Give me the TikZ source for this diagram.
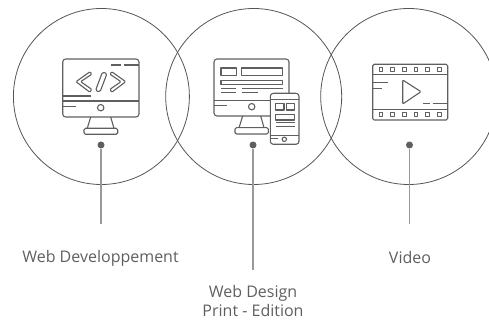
\documentclass[tikz,border=0pt]{standalone}
\usepackage{fontspec}
\setmainfont{Open Sans}
\usepackage{xcolor}
\definecolor{icongray}{HTML}{5F5F5F}
\definecolor{stemgray}{HTML}{999999}
\definecolor{ringgray}{HTML}{555555}
\tikzset{
    ring/.style={draw=ringgray,line width=0.8pt,shape=circle,minimum size=#1,inner sep=0pt},
    pin/.style={fill=icongray,shape=circle,minimum size=7pt,inner sep=0pt},
    stem/.style={draw=stemgray,line width=1.1pt},
    caption/.style={text=icongray,align=center,font=\fontsize{16}{19}\selectfont},
    icon/.style={draw=icongray,line width=1.1pt,line join=round}
}
\begin{document}
\begin{tikzpicture}[x=1pt,y=-1pt]
    \clip (0,0) rectangle (489,320);
    \node[ring=176pt] (devring) at (101.4,96.5) {};
    \node[ring=176pt] (designring) at (253.7,96.5) {};
    \node[ring=176pt] (videoring) at (408.7,96.5) {};
    \node[pin] (devpin) at (101,145) {};
    \node[pin] (designpin) at (253,145) {};
    \node[pin] (videopin) at (409.5,145) {};
    \coordinate (devend) at (101,224);
    \coordinate (designend) at (253,270);
    \coordinate (videoend) at (409.5,224);
    \draw[stem] (devpin) -- (devend);
    \draw[stem] (designpin) -- (designend);
    \draw[stem] (videopin) -- (videoend);
    \node[caption] (devlabel) at (100.5,258) {Web Developpement};
    \node[caption] (designlabel) at (253,301) {Web Design\\Print - Edition};
    \node[caption] (videolabel) at (410,257) {Video};
    % monitor with code
    \draw[icon,rounded corners=3pt] (62.7,59) rectangle (139,117);
    \draw[icon] (62.7,101) -- (139,101);
    \draw[icon] (62.7,96) -- (90.7,96);
    \draw[icon] (62.7,106.7) -- (75.7,106.7);
    \draw[icon] (111,65) -- (121,65);
    \draw[icon] (124,65) -- (139,65);
    \draw[icon] (100.7,107.7) circle (3.2);
    \draw[icon] (90.7,117) -- (87.3,128.3);
    \draw[icon] (110.7,117) -- (114,128.3);
    \draw[icon,rounded corners=1.5pt] (84,128.3) rectangle (117.7,134.3);
    \draw[icon,rounded corners=1pt] (76,81.7) -- (90,71.7) -- (91.7,74.3) -- (80.7,81.7) -- (91.7,89.3) -- (90,92.3) -- cycle;
    \draw[icon,rounded corners=1pt] (125.7,81.7) -- (111.7,71.7) -- (110,74.3) -- (121,81.7) -- (110,89.3) -- (111.7,92.3) -- cycle;
    \draw[icon,rounded corners=1.5pt] (102.5,72) -- (107,73.5) -- (100,92) -- (95.5,90.5) -- cycle;
    % monitor and phone
    \draw[icon,rounded corners=3pt] (270,116) -- (214,116) -- (214,59) -- (289,59) -- (289,93.3);
    \draw[icon] (221,68) rectangle (236.3,75.7);
    \draw[icon] (241.7,68) rectangle (282.7,75.7);
    \draw[icon] (221,80.7) rectangle (282.7,84.3);
    \draw[icon] (221,88.3) -- (236.3,88.3);
    \draw[icon] (241.7,88.3) -- (282.7,88.3);
    \draw[icon] (221,92.3) -- (236.3,92.3);
    \draw[icon] (241.7,92.3) -- (257.7,92.3);
    \draw[icon] (214,100.7) -- (270.3,100.7);
    \draw[icon] (214,105.3) -- (227.3,105.3);
    \draw[icon] (251.7,106.7) circle (3.2);
    \draw[icon] (242.7,116) -- (239,127.7);
    \draw[icon] (260.7,116) -- (264,127.7);
    \draw[icon,rounded corners=1.5pt] (235,127.7) rectangle (268.3,134);
    \draw[icon,rounded corners=3pt] (270.3,93.3) rectangle (299,144.3);
    \draw[icon] (270.3,99.3) -- (299,99.3);
    \draw[icon] (270.3,135.7) -- (299,135.7);
    \draw[icon] (275.7,103.3) rectangle (284,110);
    \draw[icon] (286.7,103.3) rectangle (294.7,110);
    \draw[icon] (275.7,114.3) rectangle (294.7,120);
    \draw[icon] (275.7,122.7) -- (294.7,122.7);
    \draw[icon] (275.7,126.7) -- (294.7,126.7);
    \draw[icon] (270.3,138.3) -- (278.3,138.3);
    \draw[icon] (284.3,139.3) circle (2.2);
    % film strip
    \draw[icon,rounded corners=1.5pt] (372.7,64.3) rectangle (447.7,120);
    \draw[icon] (372.7,74.3) -- (447.7,74.3);
    \draw[icon] (372.7,109.3) -- (447.7,109.3);
    \foreach \x in {381,392.7,404.3,416,427.7,439.3} {
        \draw[icon] (\x-1.8,67.5) rectangle (\x+1.8,71.1);
        \draw[icon] (\x-1.8,112.5) rectangle (\x+1.8,116.1);
    }
    \draw[icon] (372.7,82.7) -- (388,82.7);
    \draw[icon] (372.7,88.7) -- (382,88.7);
    \draw[icon,rounded corners=1pt] (402.7,80) -- (421,91.7) -- (402.7,104) -- cycle;
    \draw[icon] (423.3,103.7) -- (430,103.7);
    \draw[icon] (432.7,103.7) -- (447.7,103.7);
\end{tikzpicture}
\end{document}
